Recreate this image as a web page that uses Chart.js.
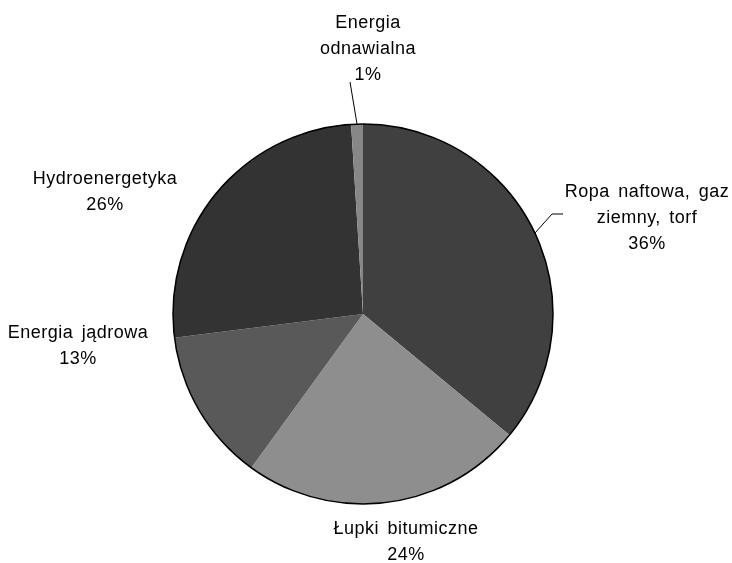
<!DOCTYPE html>
<html>
<head>
<meta charset="utf-8">
<script src="https://cdn.jsdelivr.net/npm/chart.js@4/dist/chart.umd.min.js"></script>
<style>
  html, body { margin: 0; padding: 0; background: #ffffff; }
  #wrap { width: 732px; height: 563px; }
</style>
</head>
<body>
<div id="wrap"><canvas id="pie" width="732" height="563"></canvas></div>
<script>
// Struktura źródeł energii (udział procentowy)
const categories = [
  ['Ropa naftowa, gaz', 'ziemny, torf'],
  ['Łupki bitumiczne'],
  ['Energia jądrowa'],
  ['Hydroenergetyka'],
  ['Energia', 'odnawialna']
];
const shares = [36, 24, 13, 26, 1];
const sliceColors = ['#404040', '#8e8e8e', '#595959', '#333333', '#878787'];

// Label block centres (first line) and leader-line bends
const labelLayout = [
  { x: 647, y: 192, leader: [[552, 214], [563, 214]] },
  { x: 406, y: 529, leader: null },
  { x: 78,  y: 333, leader: null },
  { x: 105, y: 179, leader: null },
  { x: 368, y: 23,  leader: [[350, 82]] }
];

const FONT = '18px "Liberation Sans", Arial, sans-serif';
const LINE_H = 26;

const outerRingAndLabels = {
  id: 'outerRingAndLabels',
  afterDatasetsDraw(chart) {
    const ctx = chart.ctx;
    const meta = chart.getDatasetMeta(0);
    const arc0 = meta.data[0];
    const cx = arc0.x, cy = arc0.y, r = arc0.outerRadius;

    // outline of the whole pie
    ctx.save();
    ctx.beginPath();
    ctx.arc(cx, cy, r, 0, Math.PI * 2);
    ctx.lineWidth = 1.5;
    ctx.strokeStyle = '#000000';
    ctx.stroke();

    const total = shares.reduce((a, b) => a + b, 0);
    ctx.font = FONT;
    ctx.letterSpacing = '0.5px';
    ctx.wordSpacing = '3px';
    ctx.fillStyle = '#000000';
    ctx.textAlign = 'center';
    ctx.textBaseline = 'middle';

    meta.data.forEach((arc, i) => {
      const lay = labelLayout[i];
      const lines = categories[i].concat([Math.round(shares[i] / total * 100) + '%']);
      lines.forEach((t, k) => ctx.fillText(t, lay.x, lay.y + k * LINE_H));

      if (lay.leader) {
        const mid = (arc.startAngle + arc.endAngle) / 2;
        const sx = cx + Math.cos(mid) * r;
        const sy = cy + Math.sin(mid) * r;
        ctx.beginPath();
        ctx.moveTo(sx, sy);
        lay.leader.forEach(p => ctx.lineTo(p[0], p[1]));
        ctx.lineWidth = 1;
        ctx.strokeStyle = '#000000';
        ctx.stroke();
      }
    });
    ctx.restore();
  }
};

new Chart(document.getElementById('pie'), {
  type: 'pie',
  data: {
    labels: categories.map(c => c.join(' ')),
    datasets: [{
      data: shares,
      backgroundColor: sliceColors,
      borderWidth: 0
    }]
  },
  options: {
    responsive: false,
    animation: false,
    layout: { padding: { left: 173, right: 179, top: 124, bottom: 59 } },
    plugins: {
      legend: { display: false },
      tooltip: { enabled: false }
    }
  },
  plugins: [outerRingAndLabels]
});
</script>
</body>
</html>
